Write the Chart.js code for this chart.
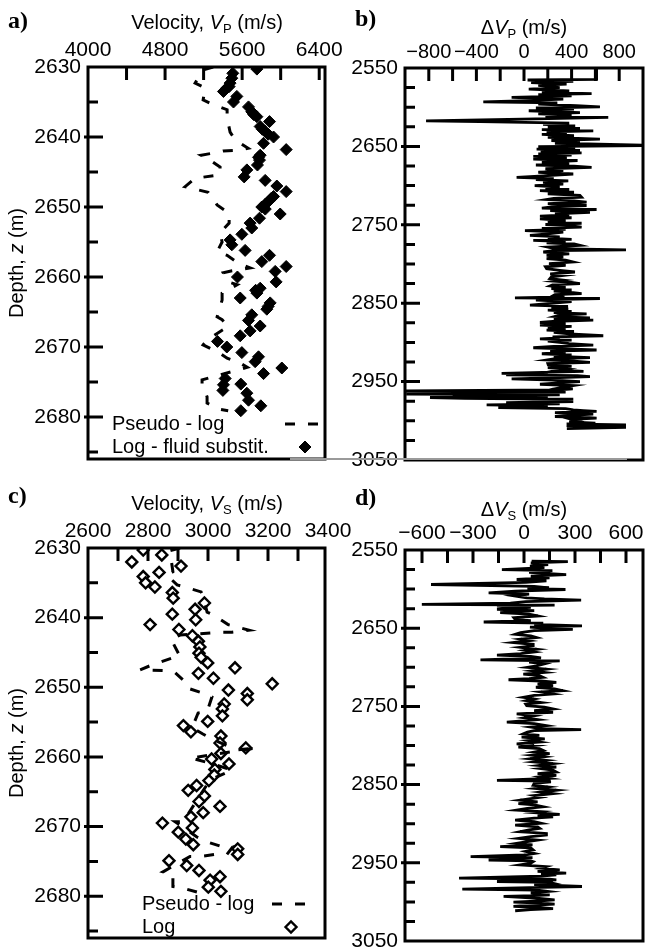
<!DOCTYPE html>
<html>
<head>
<meta charset="utf-8">
<script src="https://cdn.jsdelivr.net/npm/chart.js@4.4.0/dist/chart.umd.min.js"></script>
<style>
  body { margin: 0; background: #fff; width: 646px; height: 950px; position: relative; overflow: hidden;
         font-family: "Liberation Sans", Arial, sans-serif; color: #000; }
  canvas { position: absolute; }
  .tag { position: absolute; font-family: "Liberation Serif", "Times New Roman", serif; font-weight: bold;
         font-size: 24px; line-height: 1; }
  .ttl { position: absolute; font-size: 20px; line-height: 1; white-space: nowrap; transform: translateX(-50%); }
  .ytl { position: absolute; font-size: 20px; line-height: 1; white-space: nowrap;
         transform: translate(-50%, -50%) rotate(-90deg); }
  .ttl sub, .ytl sub { font-size: 13px; vertical-align: baseline; position: relative; top: 4px; }
  .seam { position: absolute; left: 290px; top: 458px; width: 337px; height: 2px; background: #9a9a9a; }
</style>
</head>
<body>
<canvas id="chartA" width="360" height="475" style="left:0;top:0"></canvas>
<canvas id="chartB" width="316" height="475" style="left:330px;top:0"></canvas>
<canvas id="chartC" width="360" height="475" style="left:0;top:475px"></canvas>
<canvas id="chartD" width="316" height="475" style="left:330px;top:475px"></canvas>
<div class="seam"></div>

<div class="tag" style="left:8px;top:8px">a)</div>
<div class="tag" style="left:355px;top:6px">b)</div>
<div class="tag" style="left:8px;top:483px">c)</div>
<div class="tag" style="left:355px;top:485px">d)</div>

<div class="ttl" style="left:207px;top:12px">Velocity, <i>V</i><sub>P</sub> (m/s)</div>
<div class="ttl" style="left:524px;top:17px">Δ<i>V</i><sub>P</sub> (m/s)</div>
<div class="ttl" style="left:207px;top:493px">Velocity, <i>V</i><sub>S</sub> (m/s)</div>
<div class="ttl" style="left:524px;top:499px">Δ<i>V</i><sub>S</sub> (m/s)</div>
<div class="ytl" style="left:16px;top:263px">Depth, <i>z</i> (m)</div>
<div class="ytl" style="left:16px;top:743px">Depth, <i>z</i> (m)</div>

<script>
// Panel a - P velocity, log after fluid substitution (diamonds) and pseudo-log (dashed)
const vpLogVel = [5753, 5503, 5493, 5475, 5465, 5441, 5406, 5545, 5510, 5666, 5700, 5720, 5753, 5884, 5787,
  5810, 5839, 5870, 5926, 5822, 6057, 5787, 5770, 5780, 5759, 5649, 5621, 5839, 5960, 6057, 5926, 5900,
  5874, 5840, 5804, 5840, 5995, 5780, 5683, 5700, 5597, 5475, 5493, 5631, 5884, 5804, 6057, 5943, 5551,
  5953, 5787, 5740, 5753, 5580, 5891, 5870, 5856, 5700, 5666, 5787, 5683, 5580, 5344, 5441, 5597, 5770,
  5735, 6012, 5822, 5424, 5586, 5406, 5400, 5649, 5666, 5794, 5586];
const vpLogDepth = [2630.3, 2630.9, 2631.6, 2632.3, 2632.8, 2633.0, 2633.5, 2634.2, 2635.0, 2635.7, 2636.4,
  2636.8, 2637.1, 2637.8, 2638.5, 2638.9, 2639.2, 2639.6, 2640.0, 2640.9, 2641.8, 2642.6, 2642.9, 2643.3,
  2644.0, 2644.7, 2645.7, 2646.2, 2647.0, 2647.8, 2648.5, 2648.8, 2649.2, 2649.6, 2650.0, 2650.3, 2651.0,
  2651.6, 2652.3, 2653.0, 2653.9, 2654.7, 2655.4, 2656.2, 2656.9, 2657.8, 2658.5, 2659.2, 2660.0, 2660.7,
  2661.6, 2661.9, 2662.3, 2663.0, 2663.7, 2664.2, 2664.6, 2665.4, 2666.2, 2667.0, 2667.7, 2668.4, 2669.2,
  2670.0, 2670.8, 2671.4, 2672.1, 2673.0, 2673.8, 2674.5, 2675.3, 2675.4, 2676.2, 2676.6, 2677.6, 2678.4,
  2679.1];
const vpPseudoVel = [5299, 5195, 5112, 5216, 5195, 5288, 5444, 5444, 5475, 5527, 5662, 5558, 5403, 5299,
  5174, 5268, 5371, 5371, 5112, 5008, 5247, 5288, 5340, 5465, 5465, 5371, 5392, 5340, 5444, 5558, 5683,
  5496, 5403, 5455, 5548, 5392, 5392, 5340, 5392, 5455, 5392, 5236, 5195, 5371, 5444, 5579, 5652, 5184,
  5184, 5236, 5236, 5371, 5455];
const vpPseudoDepth = [2630.0, 2630.4, 2632.3, 2633.0, 2634.7, 2635.3, 2636.1, 2637.3, 2639.3, 2640.4,
  2641.6, 2641.9, 2642.0, 2642.3, 2642.6, 2643.3, 2644.3, 2645.4, 2645.9, 2647.1, 2647.9, 2648.6, 2649.7,
  2650.9, 2652.3, 2653.7, 2655.0, 2656.4, 2656.9, 2658.0, 2658.7, 2659.1, 2659.4, 2660.7, 2661.1, 2662.3,
  2663.3, 2665.7, 2666.1, 2667.1, 2667.6, 2669.0, 2669.7, 2670.9, 2671.6, 2672.3, 2672.9, 2674.7, 2675.4,
  2677.1, 2678.0, 2678.9, 2679.1];
const vpTicks = [4000, 4400, 4800, 5200, 5600, 6000, 6400];
const vpTickLabels = [4000, 4800, 5600, 6400];

// Panel b - P velocity difference along the well
const dvpDepth = [2550, 2564.5, 2565.3, 2567, 2568.6, 2570.5, 2572, 2575, 2577, 2579.2, 2581, 2582.6, 2584,
  2585.6, 2587.5, 2589.8, 2591.5, 2593.2, 2594.5, 2596.2, 2598, 2599.6, 2601, 2602.5, 2604.5, 2606.8,
  2608.5, 2610.2, 2612, 2613.1, 2615, 2617.4, 2618.5, 2620.3, 2622, 2623.7, 2625.5, 2627.1, 2628.5, 2630.1,
  2631.5, 2633, 2634.6, 2636.4, 2638.5, 2640.7, 2642.5, 2644.1, 2646, 2648.3, 2649, 2650.4, 2652, 2653.4,
  2655, 2656.8, 2658.3, 2659.7, 2661, 2662.7, 2664.5, 2666.1, 2668, 2670.3, 2672, 2673.7, 2675.2, 2676.7,
  2678.5, 2680.9, 2683, 2685.2, 2687.3, 2689.4, 2691, 2692.4, 2694, 2695.8, 2698, 2700, 2702, 2703.4, 2705,
  2706.4, 2708.5, 2710.6, 2712.5, 2714.8, 2716.3, 2717.8, 2719.5, 2721.2, 2723, 2725.4, 2727, 2728.8,
  2730.5, 2731.8, 2734, 2736, 2737.5, 2739, 2741, 2742.4, 2744.5, 2746.6, 2748, 2749.6, 2751.3, 2753,
  2754.5, 2755.9, 2757.5, 2759.3, 2761.5, 2763.6, 2765.5, 2767, 2768.5, 2769.9, 2771.5, 2772.9, 2774.5,
  2776.3, 2778.5, 2780.5, 2782, 2783, 2784.7, 2787, 2789, 2791, 2793.2, 2795, 2797.5, 2799.5, 2801.7,
  2803.5, 2805.9, 2808, 2810.2, 2812.5, 2814.4, 2816.5, 2818.6, 2820.5, 2822, 2823.5, 2825, 2826.5, 2828,
  2830, 2831.4, 2833, 2834.7, 2836, 2837.7, 2839, 2840.7, 2842, 2843.2, 2844, 2845.5, 2846.2, 2848, 2849.2,
  2850.5, 2852.5, 2854, 2855.9, 2857.5, 2858.9, 2860.5, 2861.9, 2863.5, 2865.3, 2867, 2868.6, 2870,
  2871.6, 2873, 2874.6, 2876.5, 2878, 2879.5, 2881.4, 2883, 2884.3, 2886, 2887.3, 2889, 2891.5, 2893,
  2894.1, 2895.5, 2897, 2898.5, 2900, 2901.5, 2903.4, 2905, 2906.8, 2908.3, 2909.7, 2911, 2912.7, 2914.5,
  2916.1, 2917.5, 2919.5, 2921, 2922.5, 2924, 2925.4, 2927, 2928.8, 2930.5, 2932.2, 2934, 2935.2, 2937,
  2939.4, 2940.5, 2941.5, 2942.5, 2943.6, 2945, 2946.6, 2948, 2950, 2951.5, 2953.4, 2955, 2956.4, 2958,
  2959.3, 2960.5, 2961.9, 2962.5, 2963.5, 2964, 2965, 2966.1, 2967, 2968.2, 2969, 2970.3, 2971.5, 2972.5,
  2974, 2975.4, 2977, 2978.5, 2979.7, 2981, 2983.1, 2984.5, 2986, 2987, 2988.1, 2989.5, 2991.5, 2993,
  2994.5, 2996, 2996.6, 2998, 3000, 3001.5, 3003, 3004, 3005.1, 3006, 3007.2, 3008.2, 3010];
const dvpVal = [610, 610, 30, 414, 60, 358, 120, 300, 40, 380, 150, 568, 120, 400, -104, 330, 30, -342, 280,
  120, 440, 638, 100, 420, 40, 470, 120, 400, 180, 708, 100, -823, -370, 380, 160, 430, 200, 470, 150, 582,
  190, 360, 150, 420, 200, 638, 230, 470, 260, 1000, 1000, 120, 430, 106, 470, 140, 484, 120, 400, 78, 360,
  78, 450, 150, 380, 100, 420, 568, 180, 330, 120, 414, 200, -62, 250, 100, 372, 160, 330, 90, 300, 180,
  380, 134, 420, 200, 470, 484, 250, 190, 420, 526, 200, 526, 250, 150, 610, 220, 554, 260, 380, 134, 400,
  134, 350, 200, 484, 180, 400, 484, 150, 350, 8, 330, 200, 50, 300, 200, 400, 78, 350, 190, 420, 470,
  200, 260, 857, 250, 162, 380, 190, 330, 190, 350, 414, 210, 350, 180, 190, 300, 428, 220, 340, 230, 218,
  330, 260, 400, 470, 240, 218, 350, 230, 400, 250, 380, 484, 260, 240, 340, -76, 638, 230, 100, 400, 300,
  200, 50, 370, 230, 372, 200, 400, 250, 526, 300, 260, 554, 250, 582, 270, 134, 350, 134, 400, 200, 350,
  190, 420, 250, 380, 666, 240, 300, 134, 400, 200, 300, 380, 582, 250, 78, 350, 610, 220, 350, 150, 400,
  250, 554, 250, 190, 420, 554, 200, 204, 400, 200, 350, 300, 500, -188, 200, -150, 450, 554, 300, -104,
  250, 470, 300, 134, 414, 358, 300, 410, 300, -990, -990, 350, -990, 100, -990, 300, -600, 200, -790,
  -500, 414, 200, 414, -150, 300, -314, 200, -216, 350, 414, 500, 610, 260, 582, 400, 260, 550, 610, 400,
  450, 380, 600, 358, 857, 358, 550, 857, 360];
const dvpTicks = [-800, -600, -400, -200, 0, 200, 400, 600, 800];
const dvpTickLabels = [-800, -400, 0, 400, 800];

// Panel c - S velocity, log (open diamonds) and pseudo-log (dashed)
const vsLogVel = [2784, 2746, 2846, 2910, 2837, 2784, 2792, 2823, 2881, 2884, 2988, 2957, 2881, 2959, 2807,
  2903, 2948, 2968, 2973, 2970, 2977, 2999, 3090, 2968, 3018, 3214, 3068, 3131, 3131, 3054, 3048, 3048,
  2999, 2918, 2943, 3043, 3040, 3126, 3043, 3012, 3070, 3023, 3021, 3003, 2962, 2934, 2988, 2970, 3040,
  2984, 2943, 2848, 2948, 2901, 2926, 2951, 3099, 3099, 2870, 2929, 2970, 3040, 3007, 3001, 3043];
const vsLogDepth = [2630.3, 2632.0, 2631.0, 2632.6, 2633.5, 2634.1, 2635.0, 2635.6, 2636.4, 2637.2, 2637.9,
  2638.8, 2639.5, 2640.3, 2641.0, 2641.7, 2642.6, 2643.4, 2644.2, 2645.1, 2645.7, 2646.5, 2647.2, 2648.0,
  2648.7, 2649.5, 2650.4, 2650.9, 2651.8, 2652.4, 2653.1, 2654.1, 2654.9, 2655.5, 2656.4, 2657.0, 2658.0,
  2658.7, 2659.5, 2660.3, 2661.0, 2661.8, 2662.6, 2663.4, 2664.1, 2664.8, 2665.6, 2666.4, 2667.1, 2668.0,
  2668.6, 2669.5, 2670.2, 2670.8, 2671.8, 2672.6, 2673.2, 2674.0, 2674.9, 2675.6, 2676.3, 2677.2, 2677.7,
  2678.7, 2679.3];
const vsPseudoVel = [2907, 2873, 2883, 2863, 2897, 2923, 2977, 2983, 2997, 3017, 3067, 3137, 3080, 3040,
  2907, 2877, 2907, 2880, 2807, 2773, 2850, 2890, 2923, 2930, 2980, 3013, 2997, 2967, 2947, 2983, 3017,
  3097, 3163, 2967, 2940, 3023, 3080, 3007, 2917, 2890, 2963, 2997, 3040, 3083, 3063, 3023, 2973, 2940,
  2850, 2883, 2883, 2913, 2963, 2990];
const vsPseudoDepth = [2630.0, 2630.4, 2633.4, 2633.9, 2635.3, 2635.6, 2636.3, 2636.9, 2639.2, 2639.6,
  2641.0, 2641.8, 2642.1, 2642.1, 2642.5, 2643.1, 2645.6, 2645.8, 2646.9, 2647.5, 2647.6, 2647.9, 2649.2,
  2650.1, 2650.8, 2651.4, 2653.5, 2653.7, 2655.8, 2656.7, 2657.5, 2659.0, 2658.7, 2660.0, 2660.1, 2661.1,
  2661.9, 2663.3, 2669.3, 2669.3, 2671.5, 2672.2, 2672.8, 2672.9, 2674.0, 2674.0, 2674.3, 2674.3, 2676.5,
  2676.9, 2678.6, 2678.8, 2679.4, 2679.4];
const vsTicks = [2600, 2700, 2800, 2900, 3000, 3100, 3200, 3300, 3400];
const vsTickLabels = [2600, 2800, 3000, 3200, 3400];

// Panel d - S velocity difference along the well
const dvsDepth = [2564.4, 2564.8, 2566.5, 2568.6, 2570.5, 2572.5, 2575, 2576.5, 2578.5, 2581.4, 2583.5,
  2585.5, 2587.7, 2589.5, 2591.5, 2594.1, 2595, 2596.5, 2598.3, 2599.5, 2600.5, 2602.5, 2604.7, 2606.5,
  2608.5, 2611.1, 2612.5, 2614, 2616, 2618, 2619.6, 2620.5, 2621.7, 2623.5, 2625.9, 2627.5, 2630.2, 2632,
  2634.4, 2636.5, 2638.7, 2640.5, 2642.1, 2643.5, 2645, 2647.1, 2648.5, 2650, 2651.4, 2653, 2655.5, 2657.8,
  2659.8, 2662, 2664, 2666, 2668.4, 2670.5, 2672.6, 2674.5, 2676.9, 2678.5, 2680.5, 2682.5, 2684.5, 2686,
  2688, 2690.4, 2691.7, 2693.5, 2695.5, 2698.1, 2700, 2702.3, 2704.5, 2706.5, 2708.7, 2710.5, 2712.9,
  2714.5, 2715.9, 2717.5, 2719.3, 2721.5, 2723.5, 2725.5, 2727.5, 2729.9, 2731.5, 2734.2, 2736, 2738.4,
  2740.5, 2742.6, 2745, 2747, 2749, 2751, 2753.2, 2755.5, 2757.5, 2759.6, 2762, 2764.5, 2767, 2770.2, 2772,
  2774.5, 2776.5, 2778.5, 2779.6, 2781, 2783, 2785.1, 2787, 2789.3, 2791.4, 2793.5, 2795.5, 2797.8, 2800,
  2802.1, 2804, 2806.3, 2808.5, 2810.5, 2812.5, 2814.5, 2816.9, 2819, 2821, 2823.3, 2825.5, 2827.5, 2829.5,
  2831.5, 2833.9, 2836, 2838.1, 2840, 2842, 2844.5, 2845.5, 2846.6, 2848.5, 2850.9, 2853, 2855, 2857.2,
  2859.5, 2861.5, 2864, 2866, 2870, 2872, 2874.2, 2876, 2878.4, 2880.5, 2882.7, 2884.5, 2886, 2888.2,
  2889.5, 2891.2, 2893, 2895.4, 2897.5, 2899.5, 2901.8, 2904, 2906, 2908, 2910.3, 2912.5, 2914.5, 2916.5,
  2918.8, 2921, 2923, 2925.1, 2927, 2929.4, 2931, 2933.6, 2935.5, 2938, 2940, 2942.1, 2943.5, 2946.4,
  2947.5, 2948.5, 2950.5, 2952.7, 2955, 2957, 2959.1, 2961, 2963.3, 2964.5, 2965.4, 2967, 2969.7, 2970.8,
  2971.8, 2972.8, 2973.9, 2975, 2976.1, 2978, 2980.3, 2981.5, 2983.7, 2985, 2986.7, 2988.5, 2990.9, 2992,
  2993, 2995, 2997.3, 2998.8, 3000.2, 3001.5, 3002.8, 3004.3, 3005.8, 3007.3, 3008.7, 3010, 3011.3];
const dvsVal = [45, 258, 40, 142, 35, 120, -130, 167, 30, 248, 40, 150, -43, 132, 10, -547, -363, 60, 147,
  20, 244, -52, -208, 30, -60, 16, 120, 336, 10, -80, -601, 180, -159, 40, -159, 60, -140, 30, 83, -60, -52,
  40, -237, 113, 60, 341, 35, 120, 287, 60, -20, -52, 40, 74, -20, 30, -62, 54, 54, -20, 74, 10, 60, -20,
  -159, 40, 100, -256, 210, 30, 120, 74, 20, 132, 50, 120, -4, 90, 113, 30, -91, 100, 190, 80, 171, 70,
  180, 229, 100, 171, 60, -4, 60, 16, 100, 10, 16, 120, 171, 60, 171, -43, 60, 0, 80, -101, 60, 132, 40,
  100, 336, 60, 20, -4, 90, -14, 122, 30, 90, -43, 60, -33, 90, 113, 60, 151, 50, 120, 35, 130, 60, 171,
  90, 190, 100, 170, 190, 80, 190, 100, 150, -159, 150, 151, 60, 54, 140, 70, 190, 100, 171, 60, 100, -23,
  80, -33, 60, 113, 20, -43, 100, 60, 210, 80, 171, 60, -52, 60, 100, -52, 80, 93, 30, -23, 132, 132, 40,
  -33, 80, 20, -43, 50, -140, 40, 54, 10, 60, 0, -314, 50, -208, 40, 54, 40, -23, 130, 100, 210, 80, 248,
  100, 190, 100, -382, 150, 190, 100, -159, 150, 171, 60, 341, 100, -363, 80, 142, 40, 151, 60, -120, 60,
  180, 100, -62, 100, 180, 40, -62, 100, 171, 40, -52];
const dvsTicks = [-600, -450, -300, -150, 0, 150, 300, 450, 600];
const dvsTickLabels = [-600, -300, 0, 300, 600];

// Depth axes
const shallowTicks = [2630, 2635, 2640, 2645, 2650, 2655, 2660, 2665, 2670, 2675, 2680, 2685];
const shallowLabels = [2630, 2640, 2650, 2660, 2670, 2680];
const deepTicks = [2550, 2575, 2600, 2625, 2650, 2675, 2700, 2725, 2750, 2775, 2800, 2825, 2850, 2875,
  2900, 2925, 2950, 2975, 3000, 3025, 3050];
const deepLabels = [2550, 2650, 2750, 2850, 2950, 3050];

const FONT = "'Liberation Sans', Arial, sans-serif";
const pairs = (xs, ys) => xs.map((v, i) => ({ x: v, y: ys[i] }));
const fmt = (v) => (v < 0 ? "\u2212" + Math.abs(v) : String(v));

// frame round the plot area, ticks drawn inward
const frameTicks = {
  id: "frameTicks",
  afterDatasetsDraw(chart) {
    const { ctx, chartArea: a, scales } = chart;
    ctx.save();
    ctx.strokeStyle = "#000";
    ctx.lineWidth = 3;
    ctx.beginPath();
    scales.x.ticks.forEach((t) => {
      const px = scales.x.getPixelForValue(t.value);
      if (px < a.left + 2 || px > a.right - 2) return;
      ctx.moveTo(px, a.top);
      ctx.lineTo(px, a.top + 13);
    });
    scales.y.ticks.forEach((t) => {
      const py = scales.y.getPixelForValue(t.value);
      if (py < a.top + 2 || py > a.bottom - 2) return;
      ctx.moveTo(a.left - (t.label ? 4 : 0), py);
      ctx.lineTo(a.left + (t.label ? 15 : 10), py);
    });
    ctx.stroke();
    ctx.strokeRect(a.left, a.top, a.right - a.left, a.bottom - a.top);
    ctx.restore();
  },
};

// legend drawn inside the plot: text on the left, sample on the right
const insideLegend = {
  id: "insideLegend",
  afterDraw(chart, args, opts) {
    if (!opts.items) return;
    const { ctx, chartArea: a } = chart;
    ctx.save();
    ctx.font = "20px " + FONT;
    ctx.textBaseline = "middle";
    opts.items.forEach((it) => {
      const ds = chart.data.datasets[it.dataset];
      const y = a.bottom - it.up;
      ctx.fillStyle = "#000";
      ctx.fillText(it.text, a.left + it.textLeft, y);
      if (ds.showLine) {
        ctx.strokeStyle = ds.borderColor;
        ctx.lineWidth = ds.borderWidth;
        ctx.setLineDash(ds.borderDash);
        ctx.beginPath();
        ctx.moveTo(a.right - it.markFrom, y);
        ctx.lineTo(a.right - it.markTo, y);
        ctx.stroke();
        ctx.setLineDash([]);
      } else {
        ctx.fillStyle = ds.backgroundColor;
        ctx.strokeStyle = ds.borderColor;
        ctx.lineWidth = ds.borderWidth;
        Chart.helpers.drawPoint(ctx, { pointStyle: ds.pointStyle, radius: ds.pointRadius,
          borderWidth: ds.borderWidth, rotation: 0 }, a.right - it.markFrom, y);
      }
    });
    ctx.restore();
  },
};

function depthChart(id, datasets, xs, ys, padding, legendItems) {
  return new Chart(document.getElementById(id), {
    type: "scatter",
    data: { datasets },
    options: {
      responsive: false,
      animation: false,
      events: [],
      layout: { padding },
      plugins: {
        legend: { display: false },
        tooltip: { enabled: false },
        insideLegend: { items: legendItems },
      },
      scales: {
        x: {
          type: "linear",
          position: "top",
          min: xs.min,
          max: xs.max,
          grid: { display: false, drawTicks: false },
          border: { display: false },
          afterBuildTicks: (s) => { s.ticks = xs.ticks.map((v) => ({ value: v })); },
          afterFit: (s) => { s.height = xs.size; s.paddingLeft = 0; s.paddingRight = 0; },
          ticks: {
            autoSkip: false, maxRotation: 0, minRotation: 0, padding: 4, color: "#000",
            font: { family: FONT, size: xs.font },
            callback: (v) => (xs.labels.includes(v) ? fmt(v) : ""),
          },
        },
        y: {
          type: "linear",
          reverse: true,
          min: ys.min,
          max: ys.max,
          grid: { display: false, drawTicks: false },
          border: { display: false },
          afterBuildTicks: (s) => { s.ticks = ys.ticks.map((v) => ({ value: v })); },
          afterFit: (s) => { s.width = ys.size; s.paddingTop = 0; s.paddingBottom = 0; },
          ticks: {
            autoSkip: false, padding: 7, color: "#000",
            font: { family: FONT, size: 21 },
            callback: (v) => (ys.labels.includes(v) ? String(v) : ""),
          },
        },
      },
    },
    plugins: [frameTicks, insideLegend],
  });
}

const dashed = (data) => ({ data, showLine: true, borderColor: "#000", borderWidth: 3,
  borderDash: [10, 13], pointRadius: 0, fill: false });
const trace = (data) => ({ data, showLine: true, borderColor: "#000", borderWidth: 2.8,
  pointRadius: 0, fill: false, tension: 0 });

depthChart("chartA",
  [dashed(pairs(vpPseudoVel, vpPseudoDepth)),
   { data: pairs(vpLogVel, vpLogDepth), pointStyle: "rectRot", pointRadius: 6,
     backgroundColor: "#000", borderColor: "#000", borderWidth: 1 }],
  { min: 4000, max: 6460, ticks: vpTicks, labels: vpTickLabels, size: 67, font: 21 },
  { min: 2630, max: 2686, ticks: shallowTicks, labels: shallowLabels, size: 88 },
  { top: 0, left: 0, right: 35, bottom: 16 },
  [{ dataset: 0, text: "Pseudo - log", up: 35, textLeft: 24, markFrom: 40, markTo: 3 },
   { dataset: 1, text: "Log - fluid substit.", up: 12, textLeft: 24, markFrom: 20 }]);

depthChart("chartB",
  [trace(pairs(dvpVal, dvpDepth))],
  { min: -1000, max: 1000, ticks: dvpTicks, labels: dvpTickLabels, size: 68, font: 20 },
  { min: 2550, max: 3050, ticks: deepTicks, labels: deepLabels, size: 75 },
  { top: 0, left: 0, right: 3, bottom: 15 },
  null);

depthChart("chartC",
  [dashed(pairs(vsPseudoVel, vsPseudoDepth)),
   { data: pairs(vsLogVel, vsLogDepth), pointStyle: "rectRot", pointRadius: 5.5,
     backgroundColor: "#fff", borderColor: "#000", borderWidth: 2.4 }],
  { min: 2600, max: 3390, ticks: vsTicks, labels: vsTickLabels, size: 73, font: 21 },
  { min: 2630, max: 2686, ticks: shallowTicks, labels: shallowLabels, size: 88 },
  { top: 0, left: 0, right: 35, bottom: 12 },
  [{ dataset: 0, text: "Pseudo - log", up: 34, textLeft: 54, markFrom: 53, markTo: 18 },
   { dataset: 1, text: "Log", up: 11, textLeft: 54, markFrom: 34 }]);

depthChart("chartD",
  [trace(pairs(dvsVal, dvsDepth))],
  { min: -700, max: 700, ticks: dvsTicks, labels: dvsTickLabels, size: 75, font: 21 },
  { min: 2550, max: 3050, ticks: deepTicks, labels: deepLabels, size: 75 },
  { top: 0, left: 0, right: 3, bottom: 9 },
  null);
</script>
</body>
</html>
